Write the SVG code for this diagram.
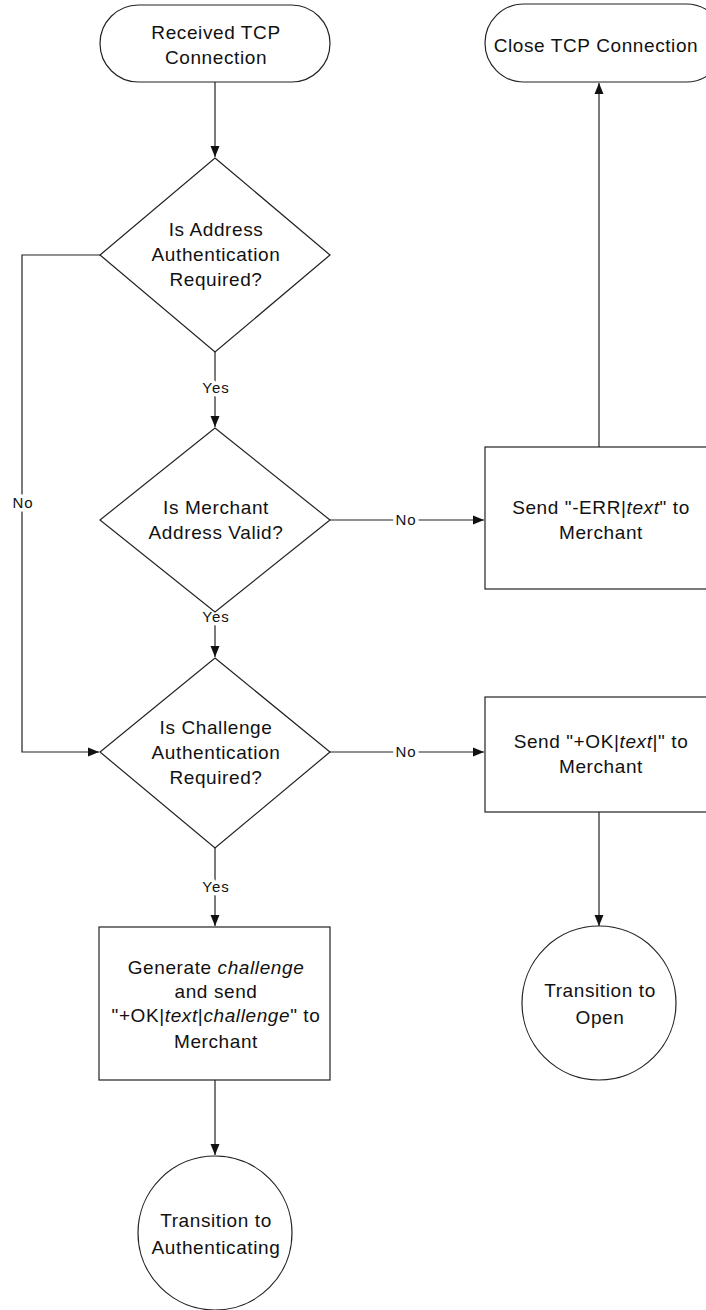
<svg xmlns="http://www.w3.org/2000/svg" width="706" height="1310" viewBox="0 0 706 1310">
  <style>
    .shape { fill: #fff; stroke: #222; stroke-width: 1.2; }
    .edge { fill: none; stroke: #222; stroke-width: 1.2; }
    .t { font-family: "Liberation Sans", Arial, sans-serif; font-size: 19px; letter-spacing: 0.6px; fill: #111; text-anchor: middle; }
    .lbl { font-family: "Liberation Sans", Arial, sans-serif; font-size: 15px; letter-spacing: 1px; fill: #111; text-anchor: middle; paint-order: stroke; stroke: #fff; stroke-width: 7px; stroke-linejoin: round; }
    .i { font-style: italic; }
  </style>
  <defs>
    <marker id="arrow" markerUnits="userSpaceOnUse" markerWidth="12" markerHeight="10" refX="11" refY="5" orient="auto">
      <path d="M0,0.5 L11,5 L0,9.5 Z" fill="#111"/>
    </marker>
  </defs>

  <!-- connectors -->
  <g id="connectors">
    <path class="edge" d="M215,82 V157" marker-end="url(#arrow)"/>
    <path class="edge" d="M215,352 V427" marker-end="url(#arrow)"/>
    <path class="edge" d="M215,612 V657" marker-end="url(#arrow)"/>
    <path class="edge" d="M215,848 V926" marker-end="url(#arrow)"/>
    <path class="edge" d="M215,1080 V1155" marker-end="url(#arrow)"/>
    <path class="edge" d="M100,255 H22 V752 H99" marker-end="url(#arrow)"/>
    <path class="edge" d="M330,520 H484" marker-end="url(#arrow)"/>
    <path class="edge" d="M330,752 H484" marker-end="url(#arrow)"/>
    <path class="edge" d="M599,447 V83" marker-end="url(#arrow)"/>
    <path class="edge" d="M599,812 V926" marker-end="url(#arrow)"/>
    <text class="lbl" x="216" y="393">Yes</text>
    <text class="lbl" x="216" y="622">Yes</text>
    <text class="lbl" x="216" y="892">Yes</text>
    <text class="lbl" x="23" y="508">No</text>
    <text class="lbl" x="406" y="525">No</text>
    <text class="lbl" x="406" y="757">No</text>
  </g>

  <!-- start terminator -->
  <g id="start">
    <rect class="shape" x="100" y="5" width="230" height="77" rx="38.5" ry="38.5"/>
    <text class="t" x="216" y="39">Received TCP</text>
    <text class="t" x="216" y="64">Connection</text>
  </g>

  <!-- close terminator (runs past the right edge) -->
  <g id="close">
    <rect class="shape" x="485" y="4" width="240" height="78" rx="39" ry="39"/>
    <text class="t" x="596" y="52">Close TCP Connection</text>
  </g>

  <!-- decision: address authentication -->
  <g id="addr-auth">
    <polygon class="shape" points="215,158 330,255 215,352 100,255"/>
    <text class="t" x="216" y="236">Is Address</text>
    <text class="t" x="216" y="261">Authentication</text>
    <text class="t" x="216" y="286">Required?</text>
  </g>

  <!-- decision: merchant address -->
  <g id="addr-valid">
    <polygon class="shape" points="215,428 330,520 215,612 100,520"/>
    <text class="t" x="216" y="514">Is Merchant</text>
    <text class="t" x="216" y="539">Address Valid?</text>
  </g>

  <!-- send error -->
  <g id="send-err">
    <rect class="shape" x="485" y="447" width="240" height="142"/>
    <text class="t" x="601" y="514">Send "-ERR|<tspan class="i">text</tspan>" to</text>
    <text class="t" x="601" y="539">Merchant</text>
  </g>

  <!-- decision: challenge authentication -->
  <g id="chal-auth">
    <polygon class="shape" points="215,658 330,752 215,848 100,752"/>
    <text class="t" x="216" y="734">Is Challenge</text>
    <text class="t" x="216" y="759">Authentication</text>
    <text class="t" x="216" y="784">Required?</text>
  </g>

  <!-- send ok -->
  <g id="send-ok">
    <rect class="shape" x="485" y="697" width="240" height="115"/>
    <text class="t" x="601" y="748">Send "+OK|<tspan class="i">text</tspan>|" to</text>
    <text class="t" x="601" y="773">Merchant</text>
  </g>

  <!-- generate challenge -->
  <g id="gen-challenge">
    <rect class="shape" x="99" y="927" width="231" height="153"/>
    <text class="t" x="216" y="974">Generate  <tspan class="i">challenge</tspan></text>
    <text class="t" x="216" y="998">and send</text>
    <text class="t" x="216" y="1022">"+OK|<tspan class="i">text</tspan>|<tspan class="i">challenge</tspan>" to</text>
    <text class="t" x="216" y="1048">Merchant</text>
  </g>

  <!-- state: open -->
  <g id="to-open">
    <circle class="shape" cx="599" cy="1003" r="77"/>
    <text class="t" x="600" y="997">Transition to</text>
    <text class="t" x="600" y="1024">Open</text>
  </g>

  <!-- state: authenticating -->
  <g id="to-auth">
    <circle class="shape" cx="215" cy="1233" r="77"/>
    <text class="t" x="216" y="1227">Transition to</text>
    <text class="t" x="216" y="1254">Authenticating</text>
  </g>
</svg>
